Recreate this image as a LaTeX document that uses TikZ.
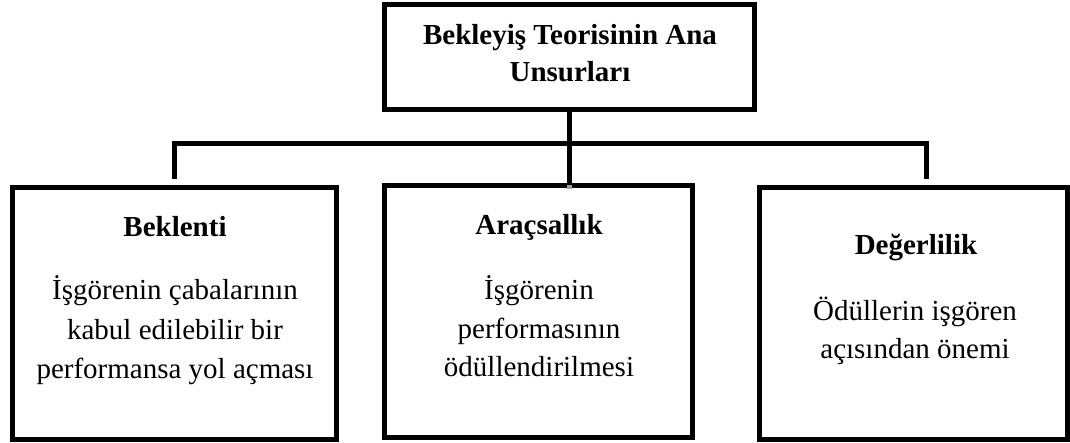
\documentclass[tikz,border=0pt]{standalone}
\usepackage{fontspec}
\setmainfont{Liberation Serif}
\begin{document}
\begin{tikzpicture}[x=1pt,y=-1pt,
  box/.style={draw=black,line width=5pt,fill=white,inner sep=0pt,rectangle},
  conn/.style={draw=black,line width=5pt},
  connshadow/.style={draw=black!38,line width=5pt},
  head/.style={font=\fontsize{29}{37}\selectfont\bfseries,anchor=base,inner sep=0pt},
  body/.style={font=\fontsize{29}{38}\selectfont,anchor=base,inner sep=0pt}]
\useasboundingbox (0,0) rectangle (1070,443);

% boxes
\node[box,minimum width=370pt,minimum height=105pt] (top) at (569.5,57) {};
\node[box,minimum width=324pt,minimum height=252pt] (left) at (174.5,313.5) {};
\node[box,minimum width=308pt,minimum height=252pt] (mid) at (538.5,311.5) {};
\node[box,minimum width=308pt,minimum height=252pt] (right) at (913.5,313.5) {};

% connector end points
\coordinate (hl) at (174,143.5);
\coordinate (hr) at (926,143.5);
\coordinate (ld) at (174,179);
\coordinate (rd) at (926,179);

% shadows of the connectors
\begin{scope}[shift={(1.5,3)}]
  \draw[connshadow] (ld) -- (hl) -- (hr) -- (rd);
  \draw[connshadow] (top.south) -- ([yshift=-6pt]top.south |- mid.north);
\end{scope}
% connectors
\draw[conn] (ld) -- (hl) -- (hr) -- (rd);
\draw[conn] (top.south) -- ([yshift=-2pt]top.south |- mid.north);

% title
\node[head] (t1) at (570,45) {Bekleyiş Teorisinin Ana};
\node[head] (t2) at (570,82) {Unsurları};

% left box
\node[head] (l0) at (175,236.5) {Beklenti};
\node[body] (l1) at (175,300) {İşgörenin çabalarının};
\node[body] (l2) at (175,339) {kabul edilebilir bir};
\node[body] (l3) at (175,378) {performansa yol açması};

% middle box
\node[head] (m0) at (539,234.5) {Araçsallık};
\node[body] (m1) at (539,299.5) {İşgörenin};
\node[body] (m2) at (539,338) {performasının};
\node[body] (m3) at (539,376.5) {ödüllendirilmesi};

% right box
\node[head] (r0) at (916,255) {Değerlilik};
\node[body] (r1) at (915,320) {Ödüllerin işgören};
\node[body] (r2) at (915,358) {açısından önemi};
\end{tikzpicture}
\end{document}
